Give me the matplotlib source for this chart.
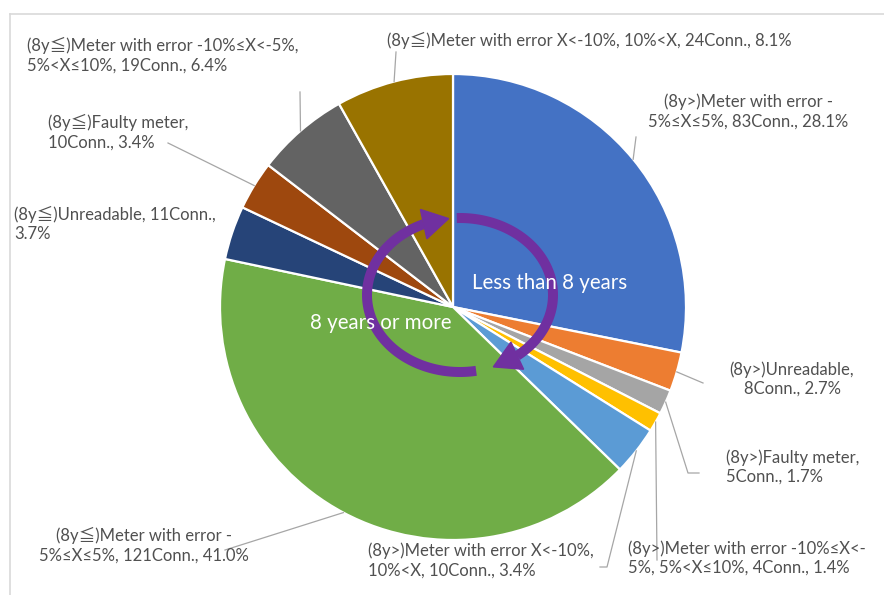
import matplotlib
matplotlib.use("Agg")
import matplotlib.pyplot as plt
import numpy as np
from matplotlib.patches import Polygon

W, H = 884, 595

categories = [
    "(8y>)Meter with error -5%≤X≤5%",
    "(8y>)Unreadable",
    "(8y>)Faulty meter",
    "(8y>)Meter with error -10%≤X<-5%, 5%<X≤10%",
    "(8y>)Meter with error X<-10%, 10%<X",
    "(8y≦)Meter with error -5%≤X≤5%",
    "(8y≦)Unreadable",
    "(8y≦)Faulty meter",
    "(8y≦)Meter with error -10%≤X<-5%, 5%<X≤10%",
    "(8y≦)Meter with error X<-10%, 10%<X",
]
connections = [83, 8, 5, 4, 10, 121, 11, 10, 19, 24]
colors = ["#4472C4", "#ED7D31", "#A5A5A5", "#FFC000", "#5B9BD5",
          "#70AD47", "#264478", "#9E480E", "#636363", "#997300"]
group_labels = ["Less than 8 years", "8 years or more"]

plt.rcParams["font.family"] = ["Lato", "Noto Sans CJK JP", "DejaVu Sans"]

TEXT = "#505050"
LEADER = "#A6A6A6"
PURPLE = "#7030A0"


def Y(y):
    """Convert a top-down pixel row into axis units."""
    return H - y


# label placement: (x, y, alignment, wrap token, leader bend points)
label_layout = [
    (748, 111.5, "center", "error -", [(636, 137)]),
    (792, 379, "center", "Unreadable,", [(703, 383)]),
    (726, 467, "left", "meter,", [(688, 473), (699, 473)]),
    (628, 558, "left", "X<-", [(657, 560)]),
    (368, 560.5, "left", "X<-10%,", [(607, 567), (600, 567)]),
    (144, 545, "center", "error -", [(225, 550)]),
    (14, 224, "left", "11Conn.,", []),
    (48, 132.5, "left", "meter,", [(168, 143)]),
    (27, 55.5, "left", "-5%,", [(300, 92)]),
    (387, 40, "left", None, [(396, 52)]),
]


def wrap(text, token):
    if token is None:
        return text
    i = text.index(token) + len(token)
    return text[:i].rstrip() + "\n" + text[i:].lstrip()


fig = plt.figure(figsize=(W / 100, H / 100), dpi=100)
ax = fig.add_axes([0, 0, 1, 1])

cx, cy, R = 453, 307, 233
wedges, _ = ax.pie(connections, colors=colors, startangle=90,
                   counterclock=False, center=(cx, Y(cy)), radius=R,
                   wedgeprops=dict(edgecolor="white", linewidth=1.6))
ax.set_xlim(0, W)
ax.set_ylim(0, H)
ax.set_aspect("equal")
ax.axis("off")

# chart-area frame
ax.plot([10, W], [Y(14), Y(14)], color="#D9D9D9", lw=1.2, zorder=0)
ax.plot([10, 10], [Y(14), 0], color="#D9D9D9", lw=1.2, zorder=0)

total = sum(connections)
for w, cat, n, (lx, ly, ha, tok, bends) in zip(wedges, categories,
                                               connections, label_layout):
    s = f"{cat}, {n}Conn., {n / total * 100:.1f}%"
    ax.text(lx, Y(ly), wrap(s, tok), ha=ha, va="center", color=TEXT,
            fontsize=12, linespacing=1.25, zorder=5)
    if bends:
        mid = np.deg2rad((w.theta1 + w.theta2) / 2)
        px = [cx + R * np.cos(mid)] + [b[0] for b in bends]
        py = [Y(cy) + R * np.sin(mid)] + [Y(b[1]) for b in bends]
        ax.plot(px, py, color=LEADER, lw=0.9, zorder=4)

# circular arrow pair in the middle
ex, ey, rx, ry = 460, 295, 93, 77
lw_px = 10


def ell(a):
    a = np.deg2rad(a)
    return np.array([ex + rx * np.cos(a), Y(ey) + ry * np.sin(a)])


def arc_with_head(a0, a1, a_tip):
    t = np.linspace(a0, a1, 120)
    pts = np.array([ell(a) for a in t])
    ax.plot(pts[:, 0], pts[:, 1], color=PURPLE, lw=lw_px * 0.72,
            solid_capstyle="butt", zorder=6)
    base = ell(a1)
    tip = ell(a_tip)
    d = tip - base
    d /= np.hypot(*d)
    nrm = np.array([-d[1], d[0]])
    half = 15
    head = [tip, base + nrm * half, base - nrm * half]
    ax.add_patch(Polygon(head, closed=True, color=PURPLE, zorder=6))


arc_with_head(92, -52, -69)
arc_with_head(-80, -247, -263)

ax.text(550, Y(283), group_labels[0], ha="center", va="center",
        color="white", fontsize=14.8, zorder=7)
ax.text(381, Y(323), group_labels[1], ha="center", va="center",
        color="white", fontsize=14.8, zorder=7)

fig.savefig("out.png", dpi=100, facecolor="white")
